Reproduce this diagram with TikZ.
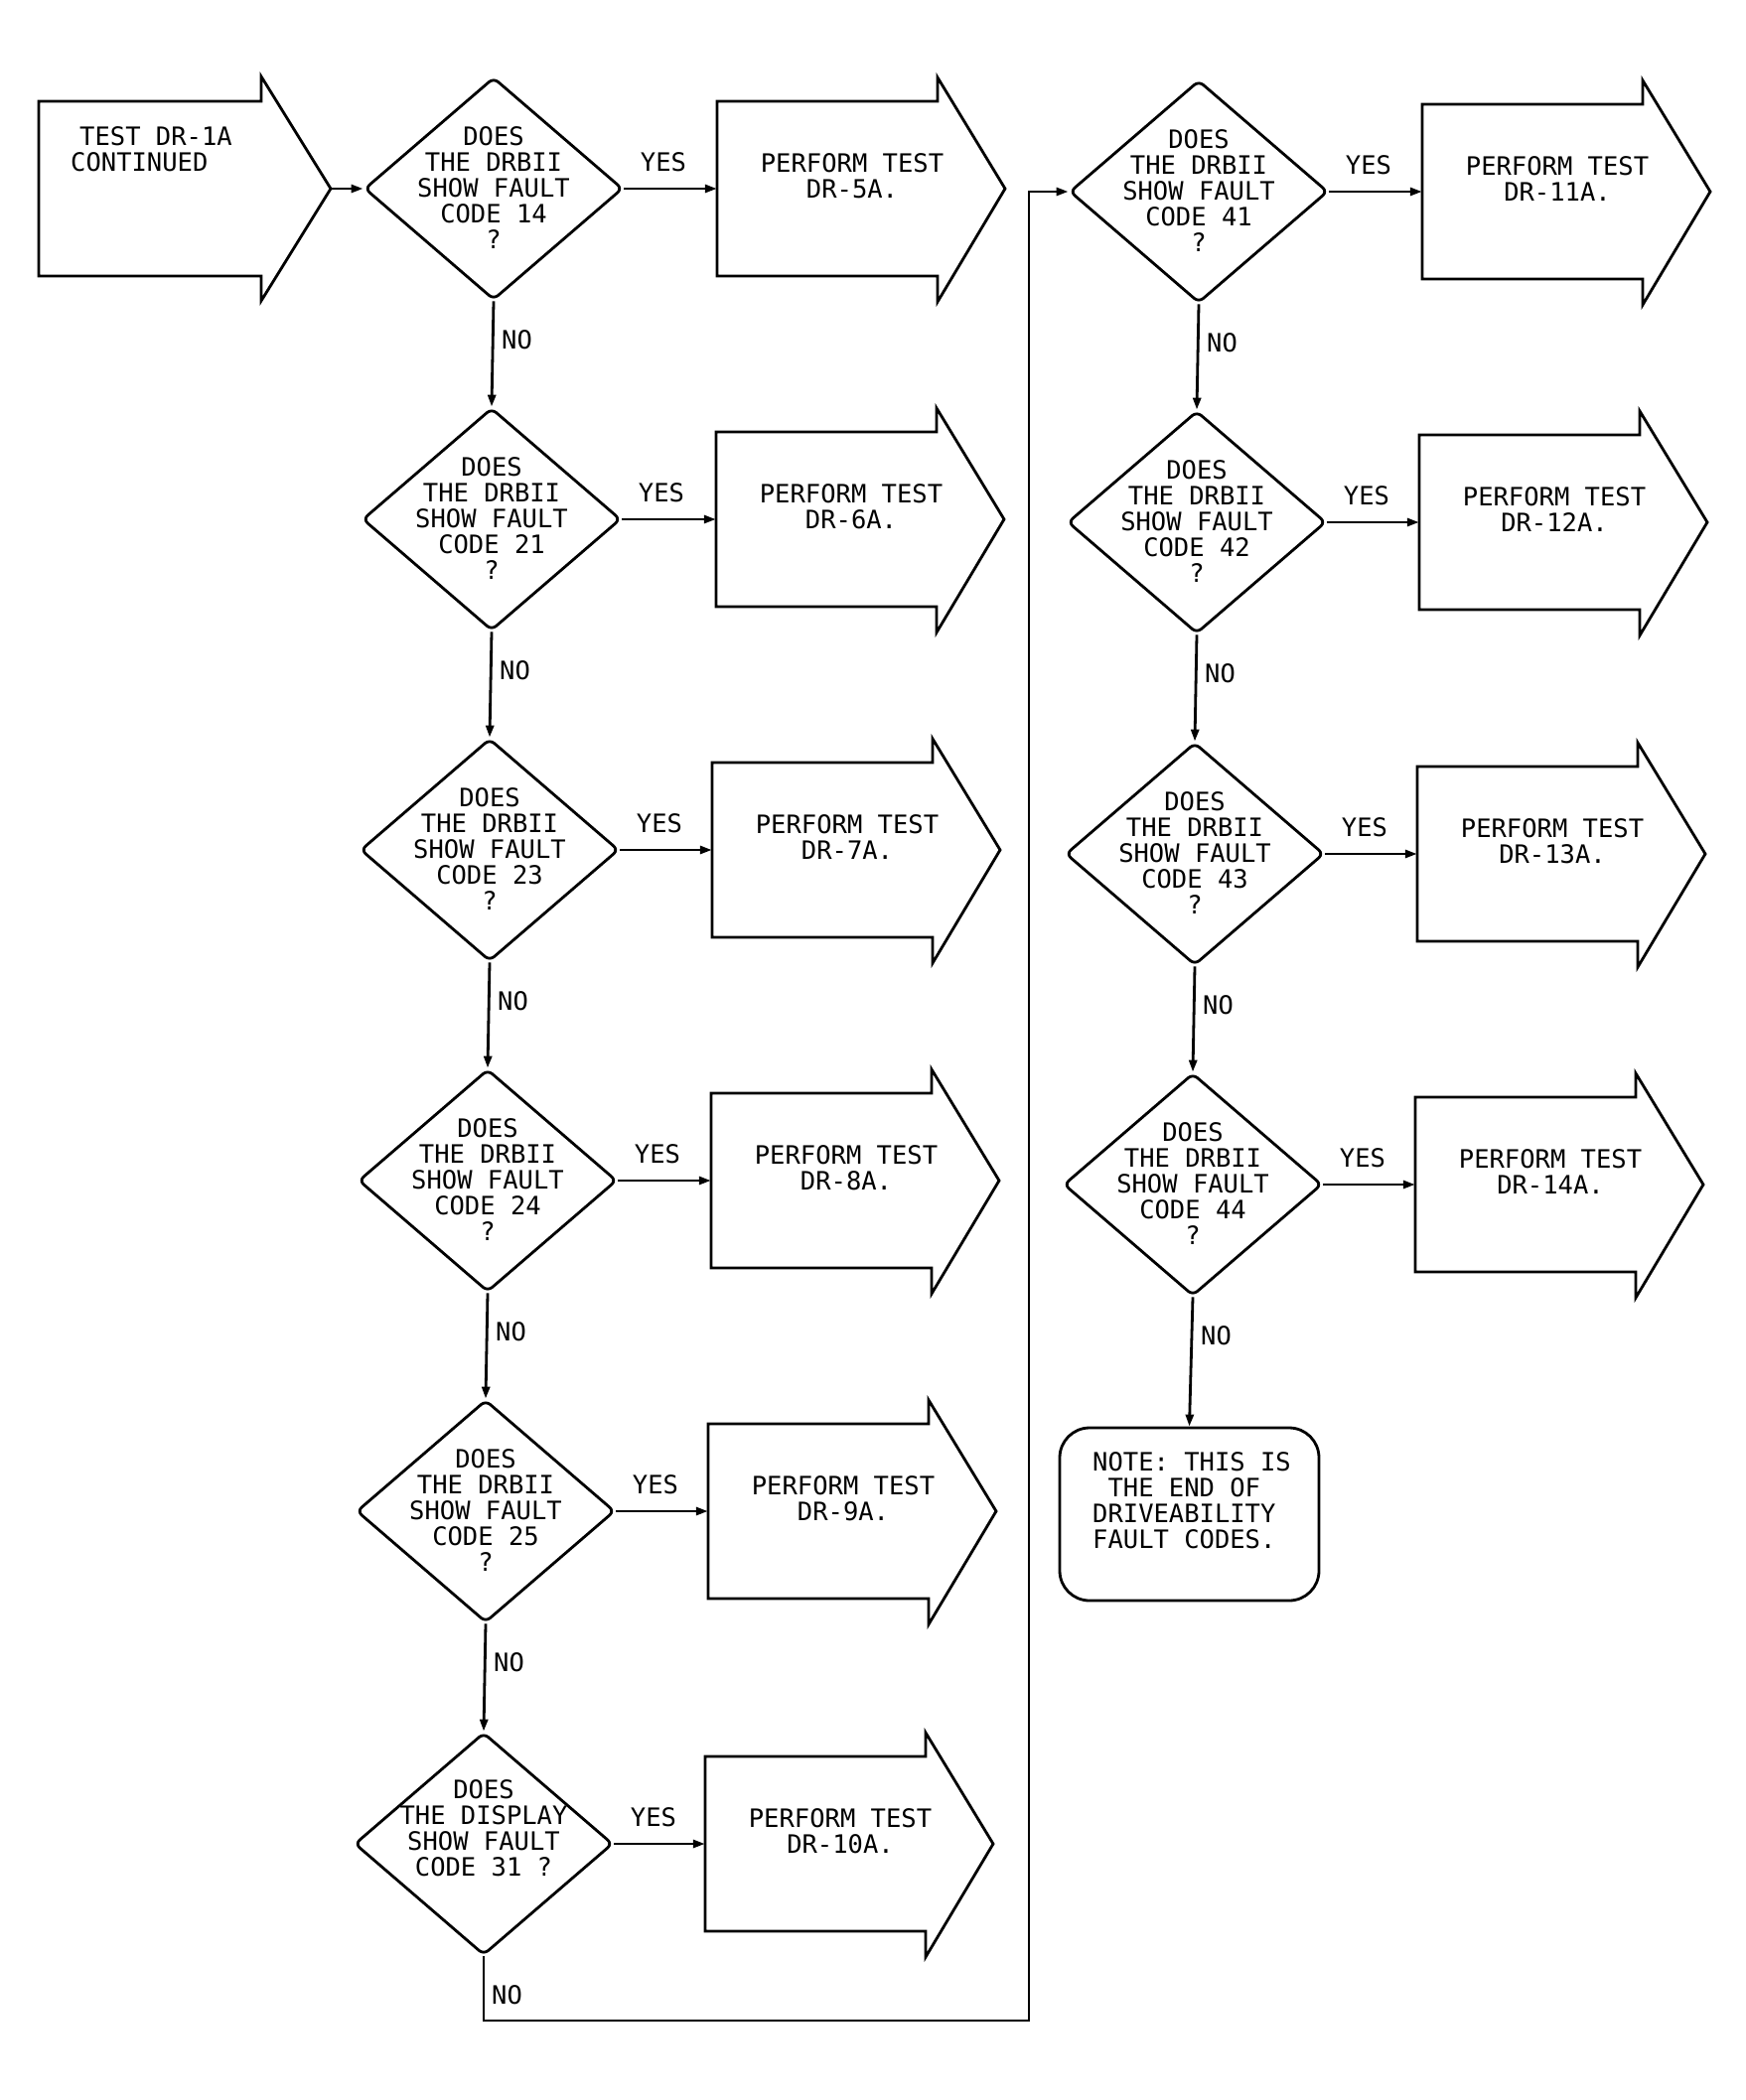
\documentclass[tikz,border=0pt]{standalone}
\usepackage{fontspec}
\setmonofont{DejaVu Sans Mono}
\usetikzlibrary{arrows.meta,shapes.geometric}
\tikzset{
  ln/.style={line width=2.8pt, line join=miter},
  dia/.style={draw, ln, shape=diamond, minimum width=260pt, minimum height=224pt, inner sep=0pt, rounded corners=6pt},
  txt/.style={font=\ttfamily\fontsize{25.5pt}{25.8pt}\selectfont, align=center, inner sep=0pt},
  lab/.style={font=\ttfamily\fontsize{25.5pt}{25.8pt}\selectfont, inner sep=0pt},
  conn/.style={ln, -{Triangle[length=12pt,width=8pt]}},
  body/.style={minimum width=222pt, minimum height=176pt, inner sep=0pt},
  notebox/.style={draw, ln, rounded corners=30pt, minimum width=261pt, minimum height=174pt, inner sep=0pt},
}
% perform-test arrow: name, left x, centre y, second text line
\newcommand\perfbox[4]{%
  \node[body] (#1) at ({#2+111},{#3}) {};
  \draw[ln] ({#2},{#3+88}) -- ({#2},{#3-88}) -- ({#2+222},{#3-88}) -- ({#2+222},{#3-112})
     -- ({#2+290},{#3}) -- ({#2+222},{#3+114}) -- ({#2+222},{#3+88}) -- cycle;
  \node[txt] (#1t) at ({#2+136},{#3-13}) {PERFORM TEST\\#4};
}
% decision: name, cx, cy, text
\newcommand\decide[4]{%
  \node[dia] (#1) at ({#2},{#3}) {};
  \node[txt] (#1t) at ({#2},{#3-1}) {#4};
}
\begin{document}
\begin{tikzpicture}[x=1pt,y=-1pt]
\fill[white] (0,0) rectangle (1758,2115);
\useasboundingbox (0,0) rectangle (1758,2115);

% start arrow
\node[inner sep=0pt, minimum width=224pt, minimum height=175pt] (start) at (151,190) {};
\draw[ln] (39,278) -- (39,102) -- (263,102) -- (263,77) -- (333,190) -- (263,303) -- (263,278) -- cycle;
\coordinate (starttip) at (333,190);
\node[txt, align=left, anchor=west] (startt) at (71,150) {\hspace{9pt}TEST DR-1A\\CONTINUED};

% column 1
\decide{d1}{497}{190}{DOES\\THE DRBII\\SHOW FAULT\\CODE 14\\?}
\decide{d2}{495}{523}{DOES\\THE DRBII\\SHOW FAULT\\CODE 21\\?}
\decide{d3}{493}{856}{DOES\\THE DRBII\\SHOW FAULT\\CODE 23\\?}
\decide{d4}{491}{1189}{DOES\\THE DRBII\\SHOW FAULT\\CODE 24\\?}
\decide{d5}{489}{1522}{DOES\\THE DRBII\\SHOW FAULT\\CODE 25\\?}
\node[dia] (d6) at (487,1857) {};
\node[txt] (d6t) at (487,1841) {DOES\\THE DISPLAY\\SHOW FAULT\\CODE 31 ?};

\perfbox{b1}{722}{190}{DR-5A.}
\perfbox{b2}{721}{523}{DR-6A.}
\perfbox{b3}{717}{856}{DR-7A.}
\perfbox{b4}{716}{1189}{DR-8A.}
\perfbox{b5}{713}{1522}{DR-9A.}
\perfbox{b6}{710}{1857}{DR-10A.}

% column 2
\decide{d7}{1207}{193}{DOES\\THE DRBII\\SHOW FAULT\\CODE 41\\?}
\decide{d8}{1205}{526}{DOES\\THE DRBII\\SHOW FAULT\\CODE 42\\?}
\decide{d9}{1203}{860}{DOES\\THE DRBII\\SHOW FAULT\\CODE 43\\?}
\decide{d10}{1201}{1193}{DOES\\THE DRBII\\SHOW FAULT\\CODE 44\\?}

\perfbox{b7}{1432}{193}{DR-11A.}
\perfbox{b8}{1429}{526}{DR-12A.}
\perfbox{b9}{1427}{860}{DR-13A.}
\perfbox{b10}{1425}{1193}{DR-14A.}

\node[notebox] (note) at (1197.5,1525) {};
\node[txt, align=left, anchor=west] (notet) at (1100,1511) {NOTE: THIS IS\\\hphantom{T}THE END OF\\DRIVEABILITY\\FAULT CODES.};

% connectors
\draw[conn] (starttip) -- (d1.west);
\foreach \d/\b/\cx/\cy in {d1/b1/497/190, d2/b2/495/523, d3/b3/493/856, d4/b4/491/1189, d5/b5/489/1522, d6/b6/487/1857,
                          d7/b7/1207/193, d8/b8/1205/526, d9/b9/1203/860, d10/b10/1201/1193}{
  \draw[conn] (\d.east) -- (\b.west);
  \node[lab] (yes-\d) at ({\cx+171},{\cy-27}) {YES};
}
\foreach \a/\b/\cx/\cy in {d1/d2/497/190, d2/d3/495/523, d3/d4/493/856, d4/d5/491/1189, d5/d6/489/1522,
                          d7/d8/1207/193, d8/d9/1205/526, d9/d10/1203/860, d10/note/1201/1193}{
  \draw[conn] (\a.south) -- (\b.north);
  \node[lab, anchor=west] (no-\a) at ({\cx+8},{\cy+152}) {NO};
}
\coordinate (r1) at (487,2035);
\coordinate (r2) at (1036,2035);
\coordinate (r3) at (1036,193);
\draw[conn] (d6.south) -- (r1) -- (r2) -- (r3) -- (d7.west);
\node[lab, anchor=west] (no-d6) at (495,2009) {NO};
\end{tikzpicture}
\end{document}
